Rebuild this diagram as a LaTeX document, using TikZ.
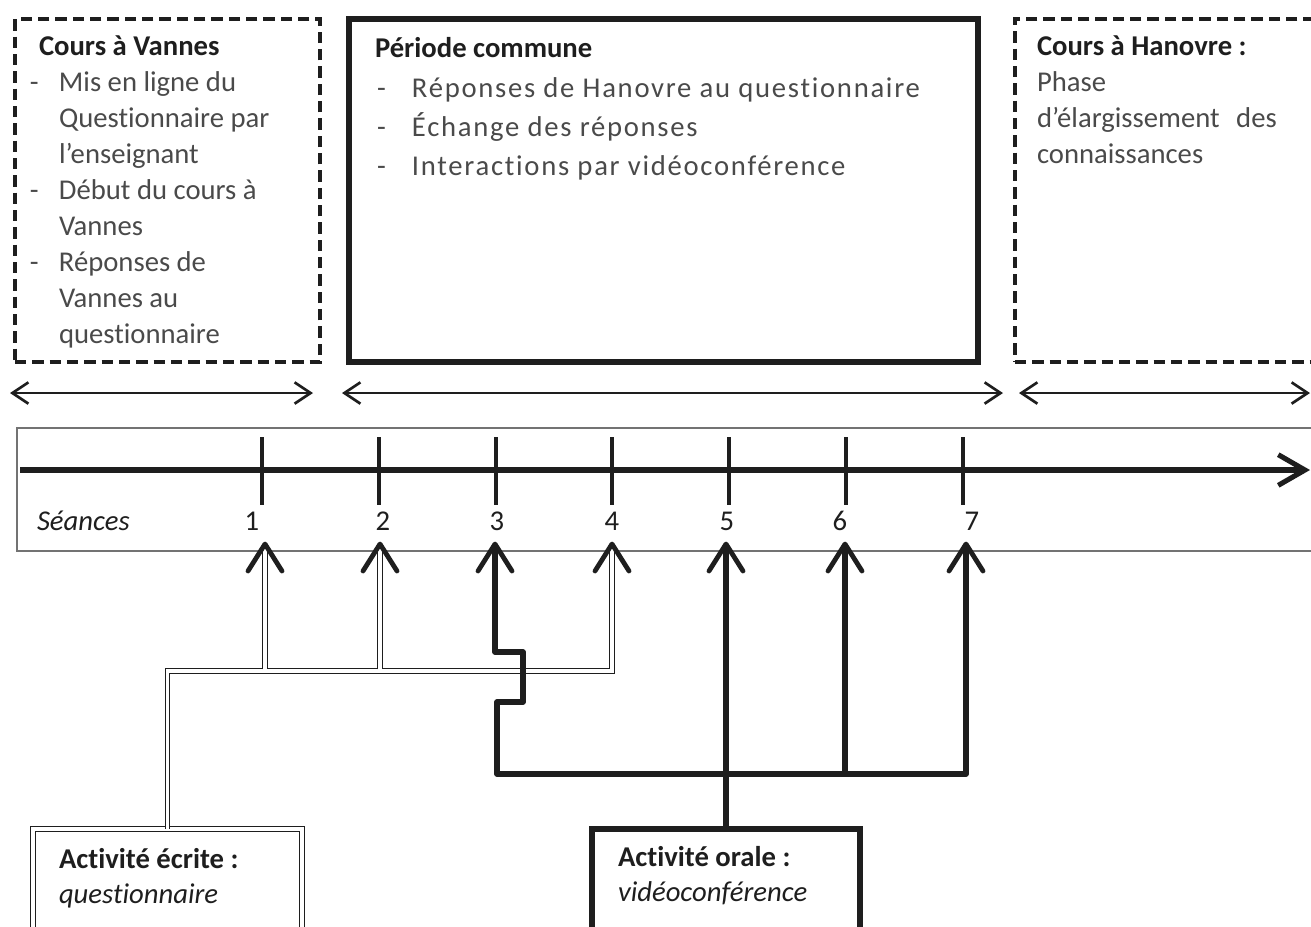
\documentclass[tikz,border=0pt]{standalone}
\usepackage{fontspec}
\setmainfont{Carlito}[Ligatures=NoCommon]
\newfontfamily\spacedfont[LetterSpace=6,Ligatures=NoCommon]{Carlito}
\usetikzlibrary{arrows.meta,fit}
\definecolor{ink}{HTML}{1E1E1E}
\definecolor{txt}{HTML}{4A4A4A}
\begin{document}
\begin{tikzpicture}[x=0.75pt,y=-0.75pt,
  every node/.style={inner sep=0pt, outer sep=0pt},
  dashbox/.style={draw=ink, line width=3pt, dash pattern=on 8.5pt off 4.5pt},
  solidbox/.style={draw=ink, line width=4.2pt},
  dblbox/.style={draw=ink, line width=1.2pt, double=white, double distance=2.4pt},
  head/.style={anchor=base west, text=ink, font=\fontsize{21.5}{27}\selectfont\bfseries},
  body/.style={anchor=base west, text=txt, font=\fontsize{21.5}{27}\selectfont},
  lbl/.style={anchor=base, text=ink, font=\fontsize{21.5}{27}\selectfont},
  span/.style={draw=ink, line width=2pt,
    {Straight Barb[length=12pt,width=16pt,line width=2pt]}-{Straight Barb[length=12pt,width=16pt,line width=2pt]}},
  axis/.style={draw=ink, line width=5pt, -{Straight Barb[length=20pt,width=23pt,line width=3.8pt]}},
  tick/.style={draw=ink, line width=2.4pt},
  tline/.style={draw=black!55, line width=1pt},
  dbl/.style={draw=ink, line width=0.9pt, double=white, double distance=2.4pt},
  thk/.style={draw=ink, line width=4pt, line join=round},
  tipc/.style={draw=ink, line width=3.6pt, line cap=round, line join=round}
]
\useasboundingbox (0,0) rectangle (1311,926);
\clip (0,0) rectangle (1311,926);

% ---- top boxes
\node[dashbox, fit={(15,19) (320,362)}] (vannes) {};
\node[solidbox, fit={(349,19) (978,362)}] (commune) {};
\node[dashbox, fit={(1015,19) (1340,362)}] (hanovre) {};

\node[head] (hv) at (39,55) {Cours à Vannes};
\node[body] (lv) at (30,91) {\begin{tabular}[t]{@{}p{21.75pt}@{}l@{}}
-&Mis en ligne du\\
&Questionnaire par\\
&l’enseignant\\
-&Début du cours à\\
&Vannes\\
-&Réponses de\\
&Vannes au\\
&questionnaire\end{tabular}};

\node[head] (hc) at (375,57) {Période commune};
\node[body, font=\fontsize{21.5}{29.6}\selectfont\spacedfont] (lc) at (377,97) {\begin{tabular}[t]{@{}p{26.25pt}@{}l@{}}
-&Réponses de Hanovre au questionnaire\\
-&Échange des réponses\\
-&Interactions par vidéoconférence\end{tabular}};

\node[head] (hh) at (1037,55) {Cours à Hanovre :};
\node[body] (lh) at (1037,91) {\begin{tabular}[t]{@{}l@{}}
Phase\\
d’élargissement\hspace{0.35em} des\\
connaissances\end{tabular}};

% ---- period spans
\coordinate (s1a) at (10,393); \coordinate (s1b) at (313,393);
\coordinate (s2a) at (342,393); \coordinate (s2b) at (1003,393);
\coordinate (s3a) at (1019,393); \coordinate (s3b) at (1310,393);
\draw[span] (s1a) -- (s1b);
\draw[span] (s2a) -- (s2b);
\draw[span] (s3a) -- (s3b);

% ---- timeline
\node[tline, fit={(17,428) (1340,551)}] (tl) {};
\coordinate (ax0) at (20,470); \coordinate (ax1) at (1310,470);
\draw[axis] (ax0) -- (ax1);
\foreach \i/\x in {1/262,2/379,3/496,4/612,5/729,6/846,7/963}{
  \coordinate (ka\i) at (\x,437); \coordinate (kb\i) at (\x,505);
  \draw[tick] (ka\i) -- (kb\i);
}
\node[lbl, anchor=base west, font=\fontsize{21.5}{27}\selectfont\itshape] (seances) at (37,530) {Séances};
\foreach \i/\x in {1/252,2/383,3/497,4/612,5/727,6/840,7/972}{
  \node[lbl] (n\i) at (\x,530) {\i};
}

% ---- arrow targets
\foreach \i/\x in {1/265,2/380,3/495,4/612,5/726,6/845,7/966}{
  \coordinate (t\i) at (\x,544);
}

% ---- bottom boxes
\node[dblbox, fit={(33,829) (302,960)}] (w) {};
\node[solidbox, fit={(592,829) (860,960)}] (o) {};
\node[anchor=base west, text=ink, font=\fontsize{21.5}{26.25}\selectfont] (wt) at (59,868)
  {\begin{tabular}[t]{@{}l@{}}\textbf{Activité écrite :}\\\textit{questionnaire}\end{tabular}};
\node[anchor=base west, text=ink, font=\fontsize{21.5}{26.25}\selectfont] (ot) at (618,866)
  {\begin{tabular}[t]{@{}l@{}}\textbf{Activité orale :}\\\textit{vidéoconférence}\end{tabular}};

% ---- written activity connectors (double lines)
\coordinate (wy) at (0,671);
\coordinate (wb) at (0,669.3);
\draw[dbl] (w.north) -- (w.north |- wy) -- (t4 |- wy) -- (t4);
\draw[dbl] (t1 |- wb) -- (t1);
\draw[dbl] (t2 |- wb) -- (t2);

% ---- oral activity connectors (thick lines)
\coordinate (j1) at (495,652); \coordinate (j2) at (523,652);
\coordinate (j3) at (523,702); \coordinate (j4) at (497,702);
\coordinate (j5) at (497,774); \coordinate (j6) at (966,774);
\draw[thk] (t3) -- (j1) -- (j2) -- (j3) -- (j4) -- (j5) -- (j6) -- (t7);
\draw[thk] (t6 |- j6) -- (t6);
\draw[thk] (o.north) -- (t5);

% ---- arrow heads
\foreach \i in {1,...,7}{
  \draw[tipc] ([shift={(-17,27)}]t\i) -- (t\i) -- ([shift={(17,27)}]t\i);
}
\end{tikzpicture}
\end{document}
